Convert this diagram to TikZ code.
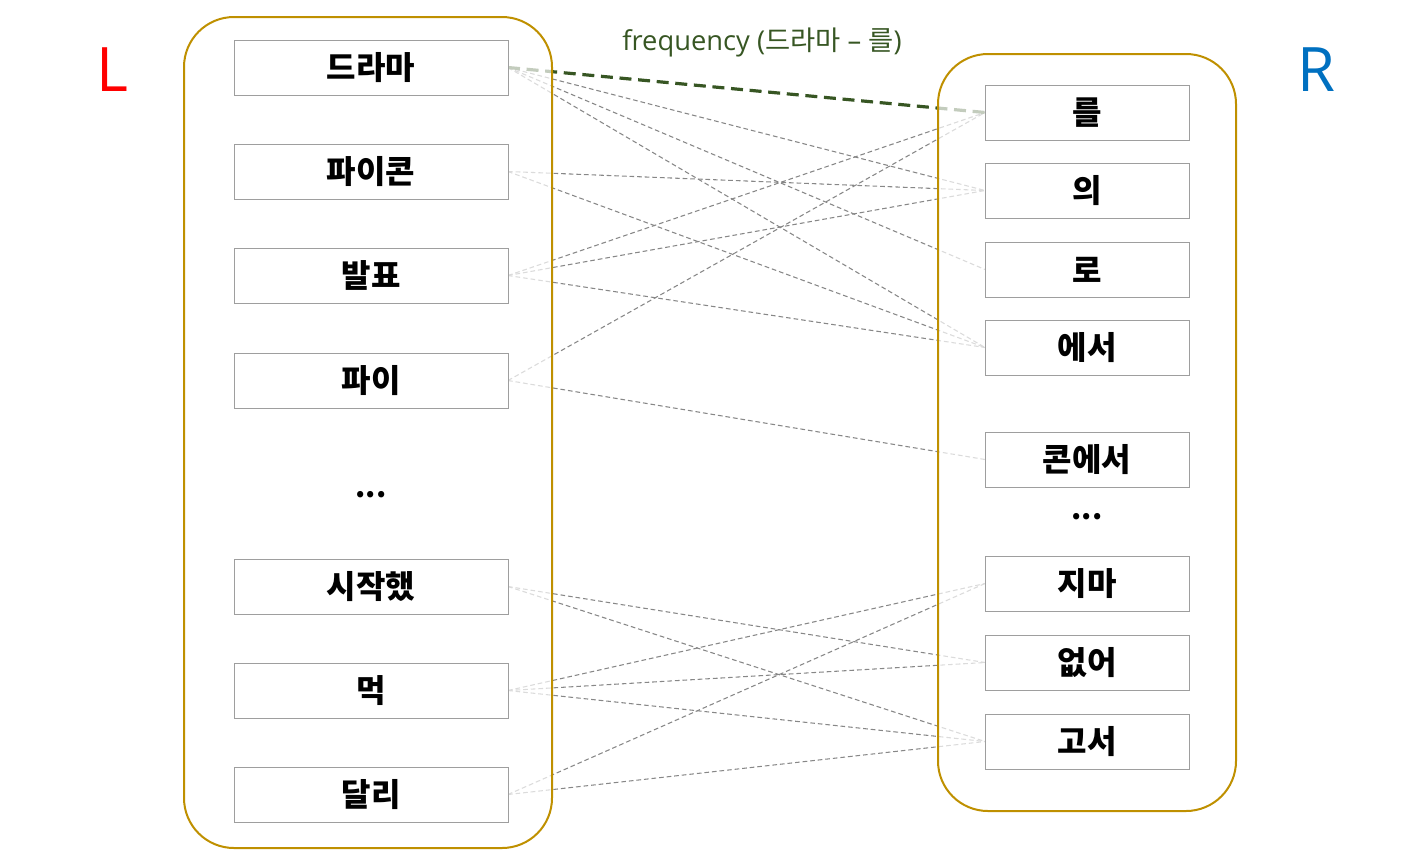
\documentclass[tikz,border=0pt]{standalone}
\usepackage{fontspec}
\newfontfamily\kr{Noto Sans CJK KR}
\setmainfont{Open Sans}
\begin{document}
\begin{tikzpicture}[x=0.75pt,y=-0.75pt,
  lbox/.style={draw=black!38,line width=0.75pt,fill=white,minimum width=205.5pt,minimum height=41.25pt,inner sep=0pt,font=\kr\bfseries\fontsize{24}{26}\selectfont},
  rbox/.style={lbox,minimum width=153pt},
  edge/.style={draw=black!47,line width=0.8pt,dash pattern=on 3.5pt off 2.2pt},
  hedge/.style={draw=hl,line width=2.4pt,dash pattern=on 9pt off 5pt},
  container/.style={draw=gold,line width=1.5pt,fill=white,fill opacity=0.7,rounded corners=37.5pt},
  dots/.style={font=\kr\bfseries\fontsize{22}{24}\selectfont}
]
\definecolor{gold}{HTML}{BF9000}
\definecolor{hl}{HTML}{375623}
\useasboundingbox (0,0) rectangle (1417,865);
% anchors for edges
\coordinate (a1) at (508,67.5);
\coordinate (a2) at (508,171.5);
\coordinate (a3) at (508,275.5);
\coordinate (a4) at (508,380.5);
\coordinate (a6) at (508,586.5);
\coordinate (a7) at (508,690.5);
\coordinate (a8) at (508,794.5);
\coordinate (b1) at (985,112.5);
\coordinate (b2) at (985,190.5);
\coordinate (b3) at (985,269.5);
\coordinate (b4) at (985,347.5);
\coordinate (b5) at (985,459.5);
\coordinate (b7) at (985,583.5);
\coordinate (b8) at (985,662.5);
\coordinate (b9) at (985,741.5);
% edges
\draw[edge] (a1) -- (b2);
\draw[edge] (a1) -- (b3);
\draw[edge] (a1) -- (b4);
\draw[edge] (a2) -- (b2);
\draw[edge] (a2) -- (b4);
\draw[edge] (a3) -- (b1);
\draw[edge] (a3) -- (b2);
\draw[edge] (a3) -- (b4);
\draw[edge] (a4) -- (b1);
\draw[edge] (a4) -- (b5);
\draw[edge] (a6) -- (b8);
\draw[edge] (a6) -- (b9);
\draw[edge] (a7) -- (b7);
\draw[edge] (a7) -- (b8);
\draw[edge] (a7) -- (b9);
\draw[edge] (a8) -- (b7);
\draw[edge] (a8) -- (b9);
\draw[hedge] (a1) -- (b1);
% containers
\draw[container] (184,17) rectangle (552,848);
\draw[container] (938,54) rectangle (1236,811);
% left boxes
\node[lbox] (l1) at (371,67.5) {드라마};
\node[lbox] (l2) at (371,171.5) {파이콘};
\node[lbox] (l3) at (371,275.5) {발표};
\node[lbox] (l4) at (371,380.5) {파이};
\node[dots] (l5) at (371,495) {...};
\node[lbox] (l6) at (371,586.5) {시작했};
\node[lbox] (l7) at (371,690.5) {먹};
\node[lbox] (l8) at (371,794.5) {달리};
% right boxes
\node[rbox] (r1) at (1087,112.5) {를};
\node[rbox] (r2) at (1087,190.5) {의};
\node[rbox] (r3) at (1087,269.5) {로};
\node[rbox] (r4) at (1087,347.5) {에서};
\node[rbox] (r5) at (1087,459.5) {콘에서};
\node[dots] (r6) at (1087,517) {...};
\node[rbox] (r7) at (1087,583.5) {지마};
\node[rbox] (r8) at (1087,662.5) {없어};
\node[rbox] (r9) at (1087,741.5) {고서};
% labels
\node[text=red,font=\fontsize{46}{50}\selectfont] (L) at (112,70) {L};
\node[text={rgb,255:red,0;green,112;blue,192},font=\fontsize{46}{50}\selectfont] (R) at (1316,70) {R};
\node[text=hl,font=\fontsize{20.5}{23}\selectfont] (freq) at (762,42) {frequency ({\kr 드라마} – {\kr 를})};
\end{tikzpicture}
\end{document}
